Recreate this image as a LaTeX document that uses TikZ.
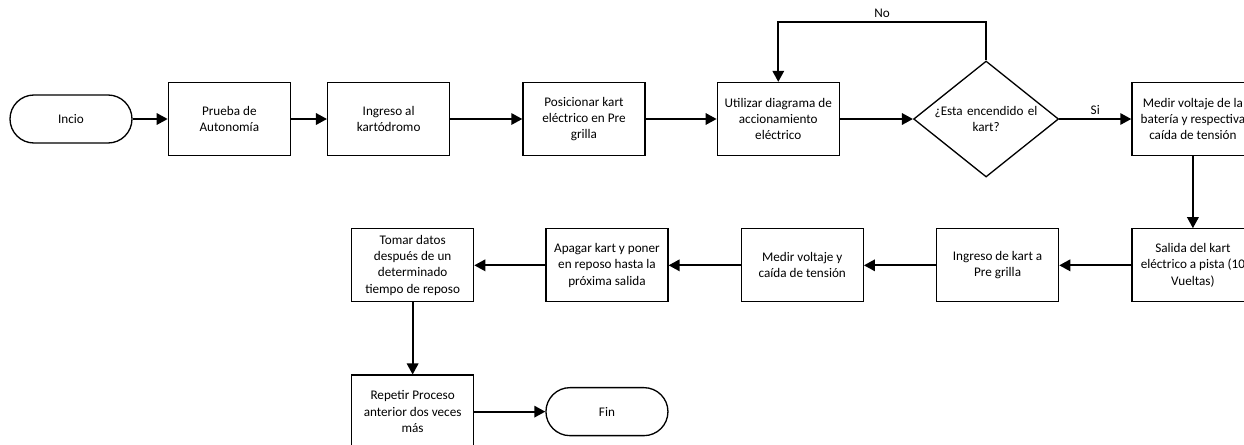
\documentclass[tikz,border=0pt]{standalone}
\usepackage{fontspec}
\setmainfont{Carlito}
\usetikzlibrary{arrows.meta, positioning, shapes.geometric}

\begin{document}
\begin{tikzpicture}[
        process/.style={
            draw,
            line width=0.75pt,
            minimum width=2.44cm,
            minimum height=1.46cm,
            inner sep=1pt,
            align=center,
            font=\fontsize{7.5}{9.2}\selectfont
        },
        terminal/.style={
            process,
            minimum height=0.96cm,
            rounded corners=0.48cm
        },
        decision/.style={
            draw,
            line width=0.75pt,
            diamond,
            aspect=1.25,
            inner sep=0pt,
            text width=2.1cm,
            minimum width=2.9cm,
            minimum height=2.32cm,
            align=center,
            font=\fontsize{7.5}{9.2}\selectfont
        },
        flow/.style={
            -{Triangle[length=2.2mm, width=2.3mm]},
            line width=1pt
        },
        flowlabel/.style={
            font=\fontsize{7.5}{9.2}\selectfont,
            inner sep=2pt
        }
    ]

        \clip (0,0) rectangle (24.88,-8.88);
        \useasboundingbox (0,0) rectangle (24.88,-8.88);

        % ---------------------------------------------------------------------
        % First row
        % ---------------------------------------------------------------------

        \node[terminal] (ini) at (1.42,-2.38) {Incio};

        \node[process, right=0.7cm of ini] (prueba) {
            Prueba de\\Autonomía
        };

        \node[process, right=0.72cm of prueba] (ingreso) {
            Ingreso al\\kartódromo
        };

        \node[process, right=1.44cm of ingreso] (posicionar) {
            Posicionar kart\\eléctrico en Pre\\grilla
        };

        \node[process, right=1.42cm of posicionar] (utilizar) {
            Utilizar diagrama de\\accionamiento\\eléctrico
        };

        \node[decision, right=1.46cm of utilizar] (encendido) {
            ¿Esta encendido el\\kart?
        };

        \node[process, right=1.44cm of encendido] (medir) {
            Medir voltaje de la\\batería y respectiva\\caída de tensión
        };

        % ---------------------------------------------------------------------
        % Second row (right to left)
        % ---------------------------------------------------------------------

        \node[process, below=1.44cm of medir] (salida) {
            Salida del kart\\eléctrico a pista (10\\Vueltas)
        };

        \node[process, left=1.44cm of salida] (ingresokart) {
            Ingreso de kart a\\Pre grilla
        };

        \node[process, left=1.44cm of ingresokart] (medircaida) {
            Medir voltaje y\\caída de tensión
        };

        \node[process, left=1.44cm of medircaida] (apagar) {
            Apagar kart y poner\\en reposo hasta la\\próxima salida
        };

        \node[process, left=1.42cm of apagar] (tomar) {
            Tomar datos\\después de un\\determinado\\tiempo de reposo
        };

        % ---------------------------------------------------------------------
        % Third row
        % ---------------------------------------------------------------------

        \node[process, below=1.44cm of tomar] (repetir) {
            Repetir Proceso\\anterior dos veces\\más
        };

        \node[terminal, right=1.42cm of repetir] (fin) {Fin};

        % ---------------------------------------------------------------------
        % Connectors
        % ---------------------------------------------------------------------

        \draw[flow] (ini) -- (prueba);
        \draw[flow] (prueba) -- (ingreso);
        \draw[flow] (ingreso) -- (posicionar);
        \draw[flow] (posicionar) -- (utilizar);
        \draw[flow] (utilizar) -- (encendido);

        \draw[flow] (encendido) -- node[flowlabel, above] {Si} (medir);

        \draw[flow]
            (encendido.north)
            -- ++(0,0.76)
            -| node[flowlabel, above, pos=0.25] {No}
            (utilizar.north);

        \draw[flow] (medir) -- (salida);
        \draw[flow] (salida) -- (ingresokart);
        \draw[flow] (ingresokart) -- (medircaida);
        \draw[flow] (medircaida) -- (apagar);
        \draw[flow] (apagar) -- (tomar);
        \draw[flow] (tomar) -- (repetir);
        \draw[flow] (repetir) -- (fin);

    \end{tikzpicture}
\end{document}
